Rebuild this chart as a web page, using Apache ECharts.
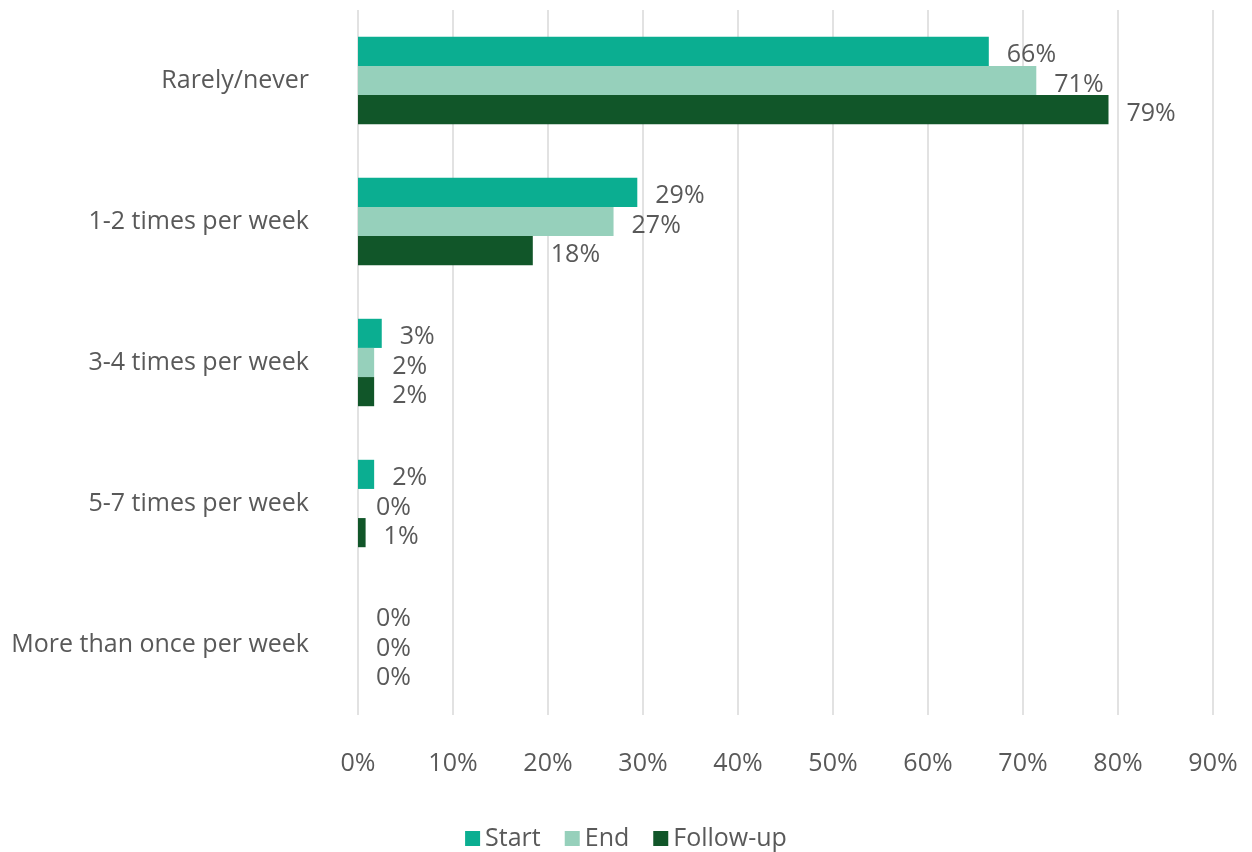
<!DOCTYPE html>
<html><head><meta charset="utf-8">
<script src="https://cdn.jsdelivr.net/npm/echarts@6/dist/echarts.min.js"></script>
<style>html,body{margin:0;padding:0;background:#fff}#c{width:1252px;height:852px}</style>
</head><body><div id="c"></div>
<script>
const categories = ["Rarely/never","1-2 times per week","3-4 times per week","5-7 times per week","More than once per week"];
const startValues = [66.4, 29.4, 2.5, 1.7, 0];
const endValues = [71.4, 26.9, 1.7, 0, 0];
const followUpValues = [79.0, 18.4, 1.7, 0.8, 0];
const tickMax = 90;
const tickStep = 10;

const font = "Open Sans";
const txt = "#595959";
const fs = 25;
const lbl = {show:true, position:'right', distance:18, offset:[0,4], color:txt, fontFamily:font, fontSize:fs,
  formatter: p => Math.round(p.value) + '%'};
const chart = echarts.init(document.getElementById('c'));
chart.setOption({
  animation:false,
  textStyle:{fontFamily:font},
  grid:{left:358, right:39, top:10, bottom:137, containLabel:false},
  legend:{top:821, left:'center', itemWidth:15, itemHeight:15, itemGap:24, itemTextGap:8, icon:'rect',
    textStyle:{color:txt, fontSize:fs, fontFamily:font}, data:['Start','End','Follow-up']},
  xAxis:{type:'value', min:0, max:tickMax, interval:tickStep,
    axisLabel:{formatter:v=>v+'%', color:txt, fontSize:fs, fontFamily:font, margin:36},
    axisLine:{show:false}, axisTick:{show:false},
    splitLine:{lineStyle:{color:'#d9d9d9', width:1.5}}},
  yAxis:{type:'category', data:categories, inverse:true,
    axisLabel:{color:txt, fontSize:fs, fontFamily:font, margin:49},
    axisLine:{show:false}, axisTick:{show:false}},
  series:[
    {name:'Start', type:'bar', data:startValues, itemStyle:{color:'#0bae91'}, barGap:'0%', barCategoryGap:'38%', label:lbl},
    {name:'End', type:'bar', data:endValues, itemStyle:{color:'#96d0bb'}, label:lbl},
    {name:'Follow-up', type:'bar', data:followUpValues, itemStyle:{color:'#115629'}, label:lbl}
  ]
});
</script></body></html>
